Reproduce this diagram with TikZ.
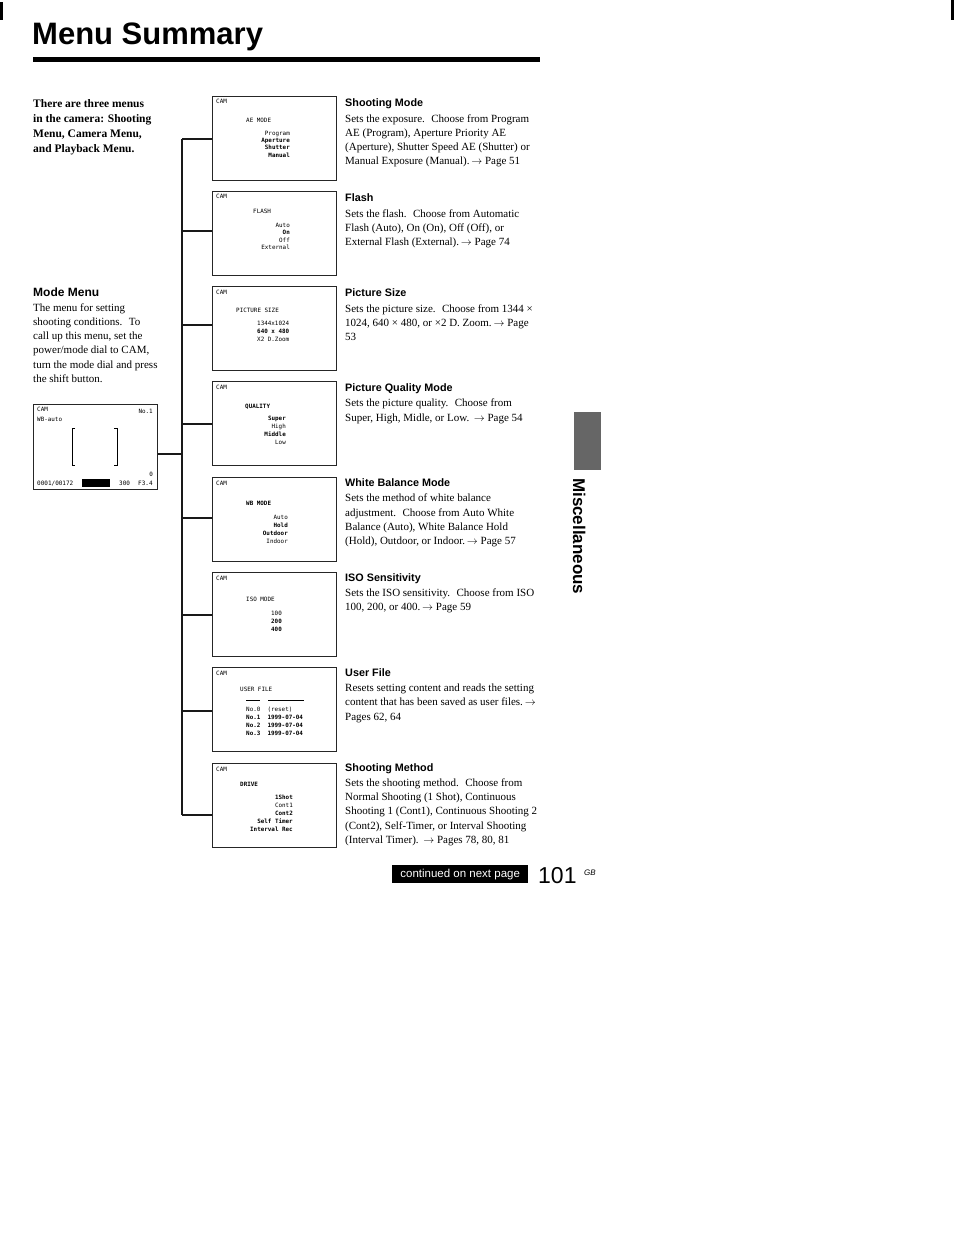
\documentclass[tikz,border=0pt]{standalone}
\usepackage{fontspec}
\setmainfont{Liberation Serif}
\newfontfamily\hv{Liberation Sans}
\newfontfamily\lcd{DejaVu Sans Mono}
\newcommand\ar{\,$\rightarrow$}
\newcommand\msect[4]{%
  \node[head] (#1h) at (345,#2) {#3};
  \node[body] (#1b) at (345,#2+6) {\rule{0pt}{9pt}#4};
}
\begin{document}
\begin{tikzpicture}[x=1pt,y=-1pt,
  head/.style={anchor=base west, inner sep=0pt, font=\hv\bfseries\fontsize{10.8}{13}\selectfont},
  body/.style={anchor=north west, inner sep=0pt, align=left, font=\fontsize{11}{14.2}\selectfont},
  screen/.style={draw=black!85, line width=0.9pt, minimum width=124pt, minimum height=84pt, anchor=north west, inner sep=0pt},
  lcdt/.style={anchor=base west, inner sep=0pt, font=\lcd\fontsize{5.9}{8}\selectfont},
  optr/.style={anchor=north east, align=right, inner sep=0pt, font=\lcd\fontsize{5.9}{8}\selectfont},
  optl/.style={anchor=north west, align=left, inner sep=0pt, font=\lcd\fontsize{5.9}{8}\selectfont},
  conn/.style={line width=1.1pt, draw=black!90}]
\useasboundingbox (0,0) rectangle (954,1233);
\fill[white] (0,0) rectangle (954,1233);
% scan marks
\fill (0,2) rectangle (2.5,20);
\fill (951,0) rectangle (953.5,20);

% title
\node[anchor=base west, inner sep=0pt, font=\hv\bfseries\fontsize{31}{31}\selectfont] (title) at (32,45) {Menu Summary};
\draw[line width=5pt] (33,60) -- (540,60);

% left column
\node[anchor=north west, inner sep=0pt, align=left, font=\bfseries\fontsize{11.5}{15}\selectfont] (intro) at (33,98)
  {\rule{0pt}{9pt}There are three menus\\in the camera: Shooting\\Menu, Camera Menu,\\and Playback Menu.};
\node[anchor=base west, inner sep=0pt, font=\hv\bfseries\fontsize{12}{14}\selectfont] (mmh) at (33,296) {Mode Menu};
\node[body] (mmb) at (33,302) {\rule{0pt}{9pt}The menu for setting\\shooting conditions.~ To\\call up this menu, set the\\power/mode dial to CAM,\\turn the mode dial and press\\the shift button.};

% mode screen
\node[screen, minimum height=85pt] (sm) at (33,404) {};
\node[lcdt] (smc) at (37,411) {CAM};
\node[lcdt] (smw) at (37,421) {WB-auto};
\node[lcdt, anchor=base east] (smn) at (153,413) {No.1};
\node[lcdt, anchor=base east] (smz) at (153,476) {0};
\node[lcdt, font=\lcd\fontsize{6}{8}\selectfont] (smf) at (37,485) {0001/00172};
\fill (82,479) rectangle (110,487);
\node[lcdt, font=\lcd\fontsize{6}{8}\selectfont] (sms) at (119,485) {300};
\node[lcdt, font=\lcd\fontsize{6}{8}\selectfont] (smp) at (138,485) {F3.4};
\draw[line width=0.7pt] (75,428) -- (72,428) -- (72,465) -- (75,465);
\draw[line width=0.7pt] (114,428) -- (117,428) -- (117,465) -- (114,465);

% screens
\node[screen] (s1) at (212,96) {};
\node[lcdt] (s1c) at (216,104) {CAM};
\node[lcdt] (s1t) at (246,123) {AE MODE};
\node[optr, font=\lcd\fontsize{5.9}{7.4}\selectfont] (s1o) at (290,130.5) {\rule{0pt}{4.5pt}Program\\\textbf{Aperture}\\\textbf{Shutter}\\\textbf{Manual}};

\node[screen] (s2) at (212,191) {};
\node[lcdt] (s2c) at (216,199) {CAM};
\node[lcdt] (s2t) at (253,214) {FLASH};
\node[optr, font=\lcd\fontsize{5.9}{7.6}\selectfont] (s2o) at (290,222.5) {\rule{0pt}{4.5pt}Auto\\\textbf{On}\\Off\\External};

\node[screen] (s3) at (212,286) {};
\node[lcdt] (s3c) at (216,294) {CAM};
\node[lcdt] (s3t) at (236,312) {PICTURE SIZE};
\node[optl] (s3o) at (257,320.5) {\rule{0pt}{4.5pt}1344x1024\\\textbf{640 x 480}\\X2 D.Zoom};

\node[screen] (s4) at (212,381) {};
\node[lcdt] (s4c) at (216,389) {CAM};
\node[lcdt] (s4t) at (245,408) {\textbf{QUALITY}};
\node[optr] (s4o) at (286,415.5) {\rule{0pt}{4.5pt}\textbf{Super}\\High\\\textbf{Middle}\\Low};

\node[screen] (s5) at (212,477) {};
\node[lcdt] (s5c) at (216,485) {CAM};
\node[lcdt] (s5t) at (246,505) {\textbf{WB MODE}};
\node[optr] (s5o) at (288,514.5) {\rule{0pt}{4.5pt}Auto\\\textbf{Hold}\\\textbf{Outdoor}\\Indoor};

\node[screen] (s6) at (212,572) {};
\node[lcdt] (s6c) at (216,580) {CAM};
\node[lcdt] (s6t) at (246,601) {ISO MODE};
\node[optr] (s6o) at (282,610.5) {\rule{0pt}{4.5pt}100\\\textbf{200}\\\textbf{400}};

\node[screen] (s7) at (212,667) {};
\node[lcdt] (s7c) at (216,675) {CAM};
\node[lcdt] (s7t) at (240,691) {USER FILE};
\draw[line width=0.6pt] (246,700) -- (260,700) (268,700) -- (304,700);
\node[optl] (s7o) at (246,706.5) {\rule{0pt}{4.5pt}No.0~~(reset)\\\textbf{No.1~~1999-07-04}\\\textbf{No.2~~1999-07-04}\\\textbf{No.3~~1999-07-04}};

\node[screen] (s8) at (212,763) {};
\node[lcdt] (s8c) at (216,771) {CAM};
\node[lcdt] (s8t) at (240,786) {\textbf{DRIVE}};
\node[optr] (s8o) at (293,794.5) {\rule{0pt}{4.5pt}\textbf{1Shot}\\Cont1\\\textbf{Cont2}\\\textbf{Self Timer}\\\textbf{Interval Rec}};

% connectors
\coordinate (j1) at (182,139);
\coordinate (j2) at (182,231);
\coordinate (j3) at (182,325);
\coordinate (j4) at (182,424);
\coordinate (j5) at (182,518);
\coordinate (j6) at (182,615);
\coordinate (j7) at (182,711);
\coordinate (j8) at (182,815);
\coordinate (jm) at (182,454);
\draw[conn] (j1) -- (j8);
\foreach \i in {1,...,8} \draw[conn] (j\i) -- (j\i -| s\i.west);
\draw[conn] (jm) -- (jm -| sm.east);

% right column
\msect{m1}{107}{Shooting Mode}{Sets the exposure.~ Choose from Program\\AE (Program), Aperture Priority AE\\(Aperture), Shutter Speed AE (Shutter) or\\Manual Exposure (Manual).\ar{} Page 51}
\msect{m2}{201.9}{Flash}{Sets the flash.~ Choose from Automatic\\Flash (Auto), On (On), Off (Off), or\\External Flash (External).\ar{} Page 74}
\msect{m3}{296.8}{Picture Size}{Sets the picture size.~ Choose from 1344 ×\\1024, 640 × 480, or ×2 D. Zoom.\ar{} Page\\53}
\msect{m4}{391.7}{Picture Quality Mode}{Sets the picture quality.~ Choose from\\Super, High, Midle, or Low.~\ar{} Page 54}
\msect{m5}{486.6}{White Balance Mode}{Sets the method of white balance\\adjustment.~ Choose from Auto White\\Balance (Auto), White Balance Hold\\(Hold), Outdoor, or Indoor.\ar{} Page 57}
\msect{m6}{581.5}{ISO Sensitivity}{Sets the ISO sensitivity.~ Choose from ISO\\100, 200, or 400.\ar{} Page 59}
\msect{m7}{676.4}{User File}{Resets setting content and reads the setting\\content that has been saved as user files.\ar\\Pages 62, 64}
\msect{m8}{771.3}{Shooting Method}{Sets the shooting method.~ Choose from\\Normal Shooting (1 Shot), Continuous\\Shooting 1 (Cont1), Continuous Shooting 2\\(Cont2), Self-Timer, or Interval Shooting\\(Interval Timer).~\ar{} Pages 78, 80, 81}

% side tab
\fill[black!60] (574,412) rectangle (601,470);
\node[rotate=-90, anchor=base west, inner sep=0pt, font=\hv\bfseries\fontsize{17}{17}\selectfont] (misc) at (573,478) {Miscellaneous};

% footer
\node[fill=black, text=white, anchor=north west, inner sep=0pt, minimum width=136pt, minimum height=18pt, font=\hv\fontsize{11.5}{13}\selectfont] (cont) at (392,865) {continued on next page};
\node[anchor=base west, inner sep=0pt, font=\hv\fontsize{23}{23}\selectfont] (pg) at (538,883) {101};
\node[anchor=base west, inner sep=0pt, font=\hv\itshape\fontsize{8}{9}\selectfont] (gb) at (584,875) {GB};
\end{tikzpicture}
\end{document}
